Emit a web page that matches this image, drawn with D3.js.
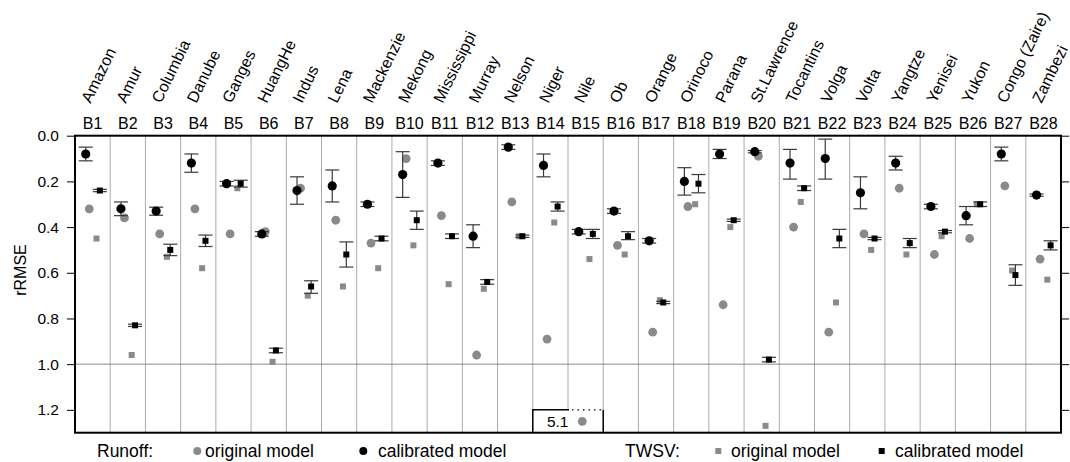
<!DOCTYPE html>
<html>
<head>
<meta charset="utf-8">
<script src="https://cdn.jsdelivr.net/npm/d3@7"></script>
<style>
  html, body { margin: 0; padding: 0; background: #fff; }
  svg { display: block; }
  text { font-family: "Liberation Sans", Arial, Helvetica, sans-serif; fill: #000; }
</style>
</head>
<body>
<svg id="chart" width="1070" height="462"></svg>
<script>
const codes = ["B1","B2","B3","B4","B5","B6","B7","B8","B9","B10","B11","B12","B13","B14","B15","B16","B17","B18","B19","B20","B21","B22","B23","B24","B25","B26","B27","B28"];
const rivers = ["Amazon","Amur","Columbia","Danube","Ganges","HuangHe","Indus","Lena","Mackenzie","Mekong","Mississippi","Murray","Nelson","Niger","Nile","Ob","Orange","Orinoco","Parana","St.Lawrence","Tocantins","Volga","Volta","Yangtze","Yenisei","Yukon","Congo (Zaire)","Zambezi"];

const runoffOriginal = [0.32,0.36,0.43,0.32,0.43,0.42,0.23,0.37,0.47,0.10,0.35,0.96,0.29,0.89,5.1,0.48,0.86,0.31,0.74,0.09,0.40,0.86,0.43,0.23,0.52,0.45,0.22,0.54];
const runoffCalibrated = [0.08,0.32,0.33,0.12,0.21,0.43,0.24,0.22,0.30,0.17,0.12,0.44,0.05,0.13,0.42,0.33,0.46,0.20,0.08,0.07,0.12,0.10,0.25,0.12,0.31,0.35,0.08,0.26];
const runoffCalLow  = [0.05,0.29,0.313,0.08,0.20,0.42,0.18,0.15,0.29,0.07,0.11,0.39,0.04,0.08,0.41,0.32,0.45,0.14,0.06,0.065,0.06,0.015,0.18,0.09,0.30,0.31,0.05,0.255];
const runoffCalHigh = [0.11,0.35,0.348,0.16,0.22,0.44,0.30,0.29,0.31,0.27,0.13,0.49,0.06,0.18,0.43,0.34,0.47,0.26,0.10,0.075,0.19,0.19,0.32,0.15,0.32,0.39,0.11,0.265];

const twsvOriginal = [0.45,0.96,0.53,0.58,0.23,0.99,0.70,0.66,0.58,0.48,0.65,0.67,0.44,0.38,0.54,0.52,0.72,0.30,0.40,1.27,0.29,0.73,0.50,0.52,0.44,0.30,0.59,0.63];
const twsvCalibrated = [0.24,0.83,0.50,0.46,0.21,0.94,0.66,0.52,0.45,0.37,0.44,0.64,0.44,0.31,0.43,0.44,0.73,0.21,0.37,0.98,0.23,0.45,0.45,0.47,0.42,0.30,0.61,0.48];
const twsvCalLow  = [0.235,0.825,0.475,0.435,0.195,0.93,0.635,0.465,0.44,0.33,0.43,0.63,0.435,0.29,0.41,0.42,0.725,0.17,0.365,0.97,0.22,0.41,0.445,0.45,0.415,0.29,0.565,0.46];
const twsvCalHigh = [0.245,0.835,0.525,0.485,0.225,0.95,0.69,0.575,0.46,0.41,0.45,0.65,0.445,0.33,0.45,0.455,0.735,0.25,0.375,0.99,0.24,0.49,0.455,0.49,0.425,0.31,0.655,0.50];

const yTicks = [0.0,0.2,0.4,0.6,0.8,1.0,1.2];
const yMax = 1.3;

const svg = d3.select("#chart");
const L = 75, R = 1061, T = 135.7, B = 432.7;
const x = d3.scaleBand().domain(codes).range([L, R]).padding(0);
const y = d3.scaleLinear().domain([0, yMax]).range([T, B]);
const bw = x.bandwidth();
const off = { rc: 0.305, ro: 0.405, to: 0.61, tc: 0.705 };

const gray = "#8a8a8a";
const errColor = "#3a3a3a";

// vertical separators
svg.append("g").selectAll("line").data(codes.slice(1)).join("line")
  .attr("x1", d => x(d)).attr("x2", d => x(d))
  .attr("y1", T).attr("y2", B)
  .attr("stroke", "#aaa").attr("stroke-width", 1);

// reference line at 1.0
svg.append("line").attr("x1", L).attr("x2", R).attr("y1", y(1)).attr("y2", y(1))
  .attr("stroke", "#808080").attr("stroke-width", 0.9);

// inset box for off-scale value (B14-B15)
const bx0 = x("B14"), bx1 = x("B15") + bw, bmid = x("B15"), by0 = y(1.2);
svg.append("rect").attr("x", bx0).attr("y", by0).attr("width", bx1 - bx0).attr("height", B - by0).attr("fill", "#fff");
svg.append("path").attr("d", `M${bx0},${B} L${bx0},${by0} L${bmid + 1},${by0}`).attr("fill", "none").attr("stroke", "#000").attr("stroke-width", 1.5);
svg.append("path").attr("d", `M${bx1},${B} L${bx1},${by0}`).attr("fill", "none").attr("stroke", "#000").attr("stroke-width", 1.5);
svg.append("line").attr("x1", bmid + 4).attr("x2", bx1 - 2).attr("y1", by0).attr("y2", by0)
  .attr("stroke", "#000").attr("stroke-width", 1.2).attr("stroke-dasharray", "1.5,4");

const rows = codes.map((c, i) => ({
  c, ro: runoffOriginal[i], rc: runoffCalibrated[i], rl: runoffCalLow[i], rh: runoffCalHigh[i],
  to: twsvOriginal[i], tc: twsvCalibrated[i], tl: twsvCalLow[i], th: twsvCalHigh[i]
}));

const inset = rows.filter(d => d.ro > yMax);
svg.append("g").selectAll("text").data(inset).join("text")
  .attr("x", d => x(d.c) + 0.5).attr("y", 421.7)
  .attr("text-anchor", "end").attr("dominant-baseline", "central")
  .attr("font-size", 15.5).text(d => d.ro.toFixed(1));
svg.append("g").selectAll("circle").data(inset).join("circle")
  .attr("cx", d => x(d.c) + bw * off.ro).attr("cy", y(1.25)).attr("r", 4.4).attr("fill", gray);

// original markers (behind)
svg.append("g").selectAll("circle").data(rows.filter(d => d.ro <= yMax)).join("circle")
  .attr("cx", d => x(d.c) + bw * off.ro).attr("cy", d => y(d.ro)).attr("r", 4.4).attr("fill", gray);
const sq = 6;
svg.append("g").selectAll("rect").data(rows).join("rect")
  .attr("x", d => x(d.c) + bw * off.to - sq / 2).attr("y", d => y(d.to) - sq / 2)
  .attr("width", sq).attr("height", sq).attr("fill", gray);

// error bars
function errBars(cx, lo, hi) {
  const g = svg.append("g").attr("stroke", errColor).attr("stroke-width", 1.2);
  g.selectAll("line.v").data(rows).join("line").attr("class", "v")
    .attr("x1", cx).attr("x2", cx).attr("y1", d => y(lo(d))).attr("y2", d => y(hi(d)));
  g.selectAll("line.l").data(rows).join("line").attr("class", "l")
    .attr("x1", d => cx(d) - 7).attr("x2", d => cx(d) + 7).attr("y1", d => y(lo(d))).attr("y2", d => y(lo(d)));
  g.selectAll("line.h").data(rows).join("line").attr("class", "h")
    .attr("x1", d => cx(d) - 7).attr("x2", d => cx(d) + 7).attr("y1", d => y(hi(d))).attr("y2", d => y(hi(d)));
}
errBars(d => x(d.c) + bw * off.rc, d => d.rl, d => d.rh);
errBars(d => x(d.c) + bw * off.tc, d => d.tl, d => d.th);

// calibrated markers
svg.append("g").selectAll("circle").data(rows).join("circle")
  .attr("cx", d => x(d.c) + bw * off.rc).attr("cy", d => y(d.rc)).attr("r", 4.6).attr("fill", "#000");
svg.append("g").selectAll("rect").data(rows).join("rect")
  .attr("x", d => x(d.c) + bw * off.tc - sq / 2).attr("y", d => y(d.tc) - sq / 2)
  .attr("width", sq).attr("height", sq).attr("fill", "#000");

// frame
svg.append("rect").attr("x", L).attr("y", T).attr("width", R - L).attr("height", B - T)
  .attr("fill", "none").attr("stroke", "#000").attr("stroke-width", 2);

// left axis
const yAxisL = d3.axisLeft(y).tickValues(yTicks).tickFormat(d3.format(".1f")).tickSize(8).tickPadding(8);
const gl = svg.append("g").attr("transform", `translate(${L},0)`).call(yAxisL);
gl.select(".domain").remove();
gl.selectAll(".tick line").attr("stroke", "#000");
gl.selectAll(".tick text").attr("font-size", 15.5).attr("font-family", "Liberation Sans, Arial, sans-serif").attr("fill", "#000");

// right axis (ticks only)
const yAxisR = d3.axisRight(y).tickValues(yTicks).tickFormat("").tickSize(8);
const gr = svg.append("g").attr("transform", `translate(${R},0)`).call(yAxisR);
gr.select(".domain").remove();
gr.selectAll(".tick line").attr("stroke", "#000");

// y label
svg.append("text").attr("transform", "translate(26,270) rotate(-90)")
  .attr("text-anchor", "middle").attr("font-size", 16).text("rRMSE");

// top code labels
svg.append("g").selectAll("text").data(codes).join("text")
  .attr("x", d => x(d) + bw / 2).attr("y", 128.5)
  .attr("text-anchor", "middle").attr("font-size", 16).text(d => d);

// rotated river names
svg.append("g").selectAll("text").data(rivers).join("text")
  .attr("transform", (d, i) => `translate(${x(codes[i]) + bw / 2 - 2},104) rotate(-64)`)
  .attr("text-anchor", "start").attr("font-size", 16).text(d => d);

// legend
const ly = 451;
const leg = svg.append("g").attr("font-size", 17.5);
leg.append("text").attr("x", 97).attr("y", ly).attr("dominant-baseline", "central").text("Runoff:");
leg.append("circle").attr("cx", 197.3).attr("cy", ly).attr("r", 4).attr("fill", gray);
leg.append("text").attr("x", 205).attr("y", ly).attr("dominant-baseline", "central").text("original model");
leg.append("circle").attr("cx", 363.3).attr("cy", ly).attr("r", 4).attr("fill", "#000");
leg.append("text").attr("x", 378).attr("y", ly).attr("dominant-baseline", "central").text("calibrated model");
leg.append("text").attr("x", 625).attr("y", ly).attr("dominant-baseline", "central").text("TWSV:");
leg.append("rect").attr("x", 715.3).attr("y", ly - 3).attr("width", 6).attr("height", 6).attr("fill", gray);
leg.append("text").attr("x", 731).attr("y", ly).attr("dominant-baseline", "central").text("original model");
leg.append("rect").attr("x", 878.7).attr("y", ly - 3).attr("width", 6).attr("height", 6).attr("fill", "#000");
leg.append("text").attr("x", 895).attr("y", ly).attr("dominant-baseline", "central").text("calibrated model");
</script>
</body>
</html>
